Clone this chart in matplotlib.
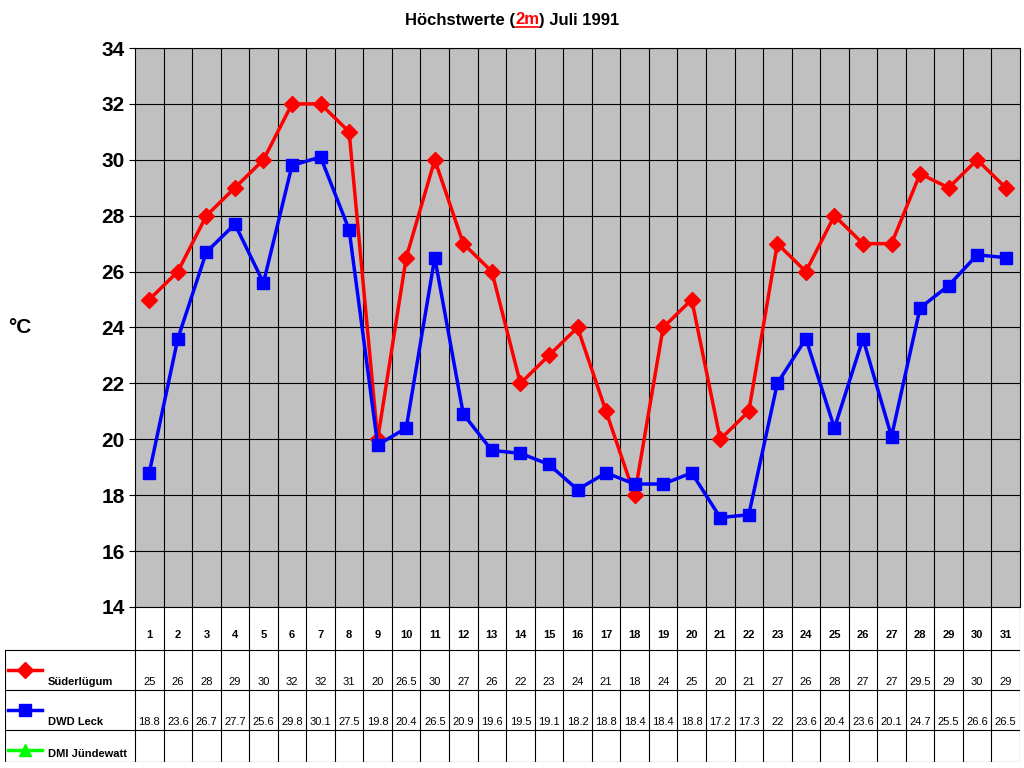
import matplotlib
matplotlib.use('Agg')
import matplotlib.pyplot as plt
from matplotlib.lines import Line2D
from matplotlib.offsetbox import TextArea, HPacker, AnchoredOffsetbox

plt.rcParams['font.family'] = ['Liberation Sans', 'DejaVu Sans']

days = list(range(1, 32))
suederluegum = [25, 26, 28, 29, 30, 32, 32, 31, 20, 26.5, 30, 27, 26, 22, 23, 24, 21, 18, 24, 25,
                20, 21, 27, 26, 28, 27, 27, 29.5, 29, 30, 29]
dwd_leck = [18.8, 23.6, 26.7, 27.7, 25.6, 29.8, 30.1, 27.5, 19.8, 20.4, 26.5, 20.9, 19.6, 19.5, 19.1,
            18.2, 18.8, 18.4, 18.4, 18.8, 17.2, 17.3, 22, 23.6, 20.4, 23.6, 20.1, 24.7, 25.5, 26.6, 26.5]
series_names = ['Süderlügum', 'DWD Leck', 'DMI Jündewatt']
series_colors = ['#ff0000', '#0000ff', '#00ff00']
series_markers = ['D', 's', '^']

W, H = 1024, 768
fig = plt.figure(figsize=(W / 100, H / 100), dpi=100)

# plot area
x0, x1, ytop, ybot = 135, 1020, 48, 607
ax = fig.add_axes([x0 / W, (H - ybot) / H, (x1 - x0) / W, (ybot - ytop) / H])
ax.set_facecolor('#c0c0c0')
ax.plot(days, suederluegum, color=series_colors[0], marker='D', markersize=8, lw=2.5)
ax.plot(days, dwd_leck, color=series_colors[1], marker='s', markersize=9, lw=2.5)
ax.set_xlim(0.5, 31.5)
ax.set_ylim(14, 34)
ax.set_yticks(range(14, 35, 2))
ax.set_xticks([d + 0.5 for d in days[:-1]])
ax.set_xticklabels([])
ax.tick_params(axis='x', length=0)
ax.tick_params(axis='y', labelsize=15, direction='out', length=4)
for lab in ax.get_yticklabels():
    lab.set_fontweight('bold')
ax.grid(True, color='black', lw=0.8)
ax.set_axisbelow(True)
for s in ax.spines.values():
    s.set_color('black')
fig.text(8 / W, 1 - 328 / H, '°C', fontsize=15, fontweight='bold', va='center')

# title
parts = [TextArea('Höchstwerte (', textprops=dict(fontsize=12, fontweight='bold')),
         TextArea('2m', textprops=dict(fontsize=12, fontweight='bold', color='red')),
         TextArea(') Juli 1991', textprops=dict(fontsize=12, fontweight='bold'))]
box = HPacker(children=parts, align='baseline', pad=0, sep=0)
anch = AnchoredOffsetbox(loc='center', child=box, frameon=False, pad=0, borderpad=0,
                         bbox_to_anchor=(512 / W, 1 - 20 / H), bbox_transform=fig.transFigure)
fig.add_artist(anch)

# data table
unit = (x1 - x0) / 31.0
tx0, tybot = 5, 762
tab = fig.add_axes([tx0 / W, (H - tybot) / H, (x1 - tx0) / W, (tybot - ybot) / H])
left = 0.5 - (x0 - tx0) / unit
tab.set_xlim(left, 31.5)
row_edges = [0, 43, 83, 123, 155]
tab.set_ylim(row_edges[-1], 0)
tab.axis('off')
lk = dict(color='black', lw=0.8)
for xv in [d - 0.5 for d in days] + [31.5]:
    tab.plot([xv, xv], [0, row_edges[-1]], **lk)
tab.plot([left, left], [row_edges[1], row_edges[-1]], **lk)
for yv in row_edges[1:]:
    tab.plot([left, 31.5], [yv, yv], **lk)
for d in days:
    tab.text(d, 28, str(d), ha='center', va='center', fontsize=8, fontweight='bold')
vals = [suederluegum, dwd_leck, [None] * 31]
for r, (name, col, mk, v) in enumerate(zip(series_names, series_colors, series_markers, vals)):
    ymid = row_edges[r + 2] - 8
    tab.plot([left + 0.1, left + 1.3], [row_edges[r + 1] + 20] * 2, color=col, lw=2.5)
    tab.plot(left + 0.7, row_edges[r + 1] + 20, marker=mk, color=col, markersize=8)
    tab.text(left + 1.5, ymid, name, fontsize=8, fontweight='bold', va='center')
    for d, val in zip(days, v):
        if val is not None:
            tab.text(d, ymid, f'{val:g}', ha='center', va='center', fontsize=8)

# underline for "2m"
fig.canvas.draw()
bb = parts[1]._text.get_window_extent()
fig.add_artist(Line2D([bb.x0, bb.x1], [bb.y0 + 1, bb.y0 + 1], color='red', lw=1.2,
                      transform=None))

fig.savefig('out.png', dpi=100)
